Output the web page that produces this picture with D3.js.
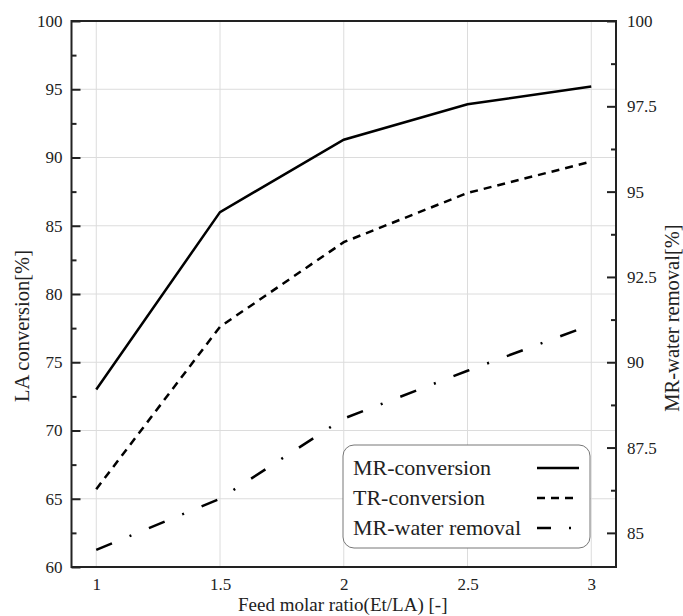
<!DOCTYPE html>
<html>
<head>
<meta charset="utf-8">
<script src="https://cdn.jsdelivr.net/npm/d3@7"></script>
<style>
  body { margin: 0; background: #fff; }
  svg text { font-family: "Liberation Serif", "Times New Roman", serif !important; fill: #222; }
</style>
</head>
<body>
<div id="chart"></div>
<script>
// data
const ratios = [1, 1.5, 2, 2.5, 3];
const mrConversion = [73.0, 86.0, 91.3, 93.9, 95.2];
const trConversion = [65.7, 77.6, 83.8, 87.4, 89.7];
const mrWaterRemoval = [84.5, 86.0, 88.35, 89.75, 91.1];

const xTicks = [1, 1.5, 2, 2.5, 3];
const leftTicks = [60, 65, 70, 75, 80, 85, 90, 95, 100];
const leftMinor = [62.5, 67.5, 72.5, 77.5, 82.5, 87.5, 92.5, 97.5];
const rightTicks = [85, 87.5, 90, 92.5, 95, 97.5, 100];
const rightMinor = [86.25, 88.75, 91.25, 93.75, 96.25, 98.75];

const legendNames = ["MR-conversion", "TR-conversion", "MR-water removal"];

const svgWidth = 683;
const svgHeight = 616;

const margin = { top: 21, right: 67, bottom: 49, left: 71.5 };
const width = svgWidth - margin.left - margin.right;
const height = svgHeight - margin.top - margin.bottom;

const svg = d3.select("#chart")
  .append("svg")
  .attr("width", svgWidth)
  .attr("height", svgHeight);

const chartGroup = svg.append("g")
  .attr("transform", `translate(${margin.left}, ${margin.top})`);

// scales
const xScale = d3.scaleLinear().domain([0.9, 3.1]).range([0, width]);
const yLeft = d3.scaleLinear().domain([60, 100]).range([height, 0]);
const yRight = d3.scaleLinear().domain([84, 100]).range([height, 0]);

// grid
chartGroup.append("g")
  .selectAll("line")
  .data(leftTicks)
  .enter()
  .append("line")
  .attr("x1", 0).attr("x2", width)
  .attr("y1", d => yLeft(d)).attr("y2", d => yLeft(d))
  .attr("stroke", "#dcdcdc").attr("stroke-width", 1);

chartGroup.append("g")
  .selectAll("line")
  .data(xTicks)
  .enter()
  .append("line")
  .attr("x1", d => xScale(d)).attr("x2", d => xScale(d))
  .attr("y1", 0).attr("y2", height)
  .attr("stroke", "#dcdcdc").attr("stroke-width", 1);

// axes
const styleAxis = g => {
  g.attr("font-family", null);
  g.select(".domain").remove();
  g.selectAll(".tick line").attr("stroke", "#222").attr("stroke-width", 2);
  g.selectAll(".tick text")
    .style("font-size", "17px")
    .style("font-family", "'Liberation Serif', serif")
    .attr("fill", "#222");
};

chartGroup.append("g")
  .call(d3.axisLeft(yLeft).tickValues(leftTicks).tickSize(-9).tickPadding(9).tickFormat(d3.format("")))
  .call(styleAxis);

chartGroup.append("g")
  .call(d3.axisLeft(yLeft).tickValues(leftMinor).tickSize(-5).tickFormat(""))
  .call(styleAxis);

chartGroup.append("g")
  .attr("transform", `translate(${width}, 0)`)
  .call(d3.axisRight(yRight).tickValues(rightTicks).tickSize(-9).tickPadding(11).tickFormat(d3.format("")))
  .call(styleAxis);

chartGroup.append("g")
  .attr("transform", `translate(${width}, 0)`)
  .call(d3.axisRight(yRight).tickValues(rightMinor).tickSize(-5).tickFormat(""))
  .call(styleAxis);

chartGroup.append("g")
  .attr("transform", `translate(0, ${height})`)
  .call(d3.axisBottom(xScale).tickValues(xTicks).tickSize(0).tickPadding(11).tickFormat(d3.format("")))
  .call(styleAxis);

// frame
chartGroup.append("rect")
  .attr("x", 0).attr("y", 0)
  .attr("width", width).attr("height", height)
  .attr("fill", "none")
  .attr("stroke", "#222")
  .attr("stroke-width", 2);

// lines
const leftLine = d3.line().x((d, i) => xScale(ratios[i])).y(d => yLeft(d));
const rightLine = d3.line().x((d, i) => xScale(ratios[i])).y(d => yRight(d));

const dashes = ["none", "8,6", "17,19,2,19"];

chartGroup.append("path")
  .attr("d", leftLine(mrConversion))
  .attr("fill", "none").attr("stroke", "#000").attr("stroke-width", 2.5);

chartGroup.append("path")
  .attr("d", leftLine(trConversion))
  .attr("fill", "none").attr("stroke", "#000").attr("stroke-width", 2.5)
  .attr("stroke-dasharray", dashes[1]);

chartGroup.append("path")
  .attr("d", rightLine(mrWaterRemoval))
  .attr("fill", "none").attr("stroke", "#000").attr("stroke-width", 2.5)
  .attr("stroke-dasharray", dashes[2]);

// legend
const legend = svg.append("g").attr("transform", "translate(343, 445)");
legend.append("rect")
  .attr("width", 247).attr("height", 103)
  .attr("rx", 11).attr("ry", 11)
  .attr("fill", "#fff")
  .attr("stroke", "#777").attr("stroke-width", 1);

legendNames.forEach((name, i) => {
  legend.append("text")
    .attr("x", 10)
    .attr("y", 30 + i * 30)
    .style("font-size", "22px")
    .text(name);
  legend.append("line")
    .attr("x1", 194).attr("x2", 236)
    .attr("y1", 23 + i * 30).attr("y2", 23 + i * 30)
    .attr("stroke", "#000").attr("stroke-width", 2.5)
    .attr("stroke-dasharray", i === 2 ? "14,18,2,20" : dashes[i]);
});

// axis titles
svg.append("text")
  .attr("transform", `translate(${margin.left + width / 2 - 1}, 611)`)
  .attr("text-anchor", "middle")
  .style("font-size", "19px")
  .text("Feed molar ratio(Et/LA) [-]");

svg.append("text")
  .attr("transform", "translate(29, 326) rotate(-90)")
  .attr("text-anchor", "middle")
  .style("font-size", "20.5px")
  .text("LA conversion[%]");

svg.append("text")
  .attr("transform", "translate(679, 318) rotate(-90)")
  .attr("text-anchor", "middle")
  .style("font-size", "20.5px")
  .text("MR-water removal[%]");
</script>
</body>
</html>
